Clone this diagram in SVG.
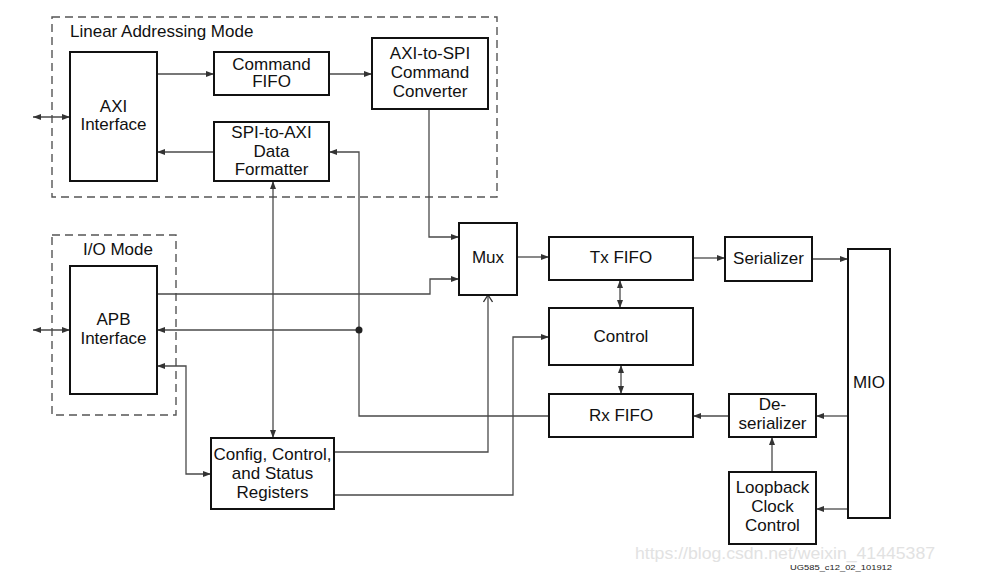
<svg xmlns="http://www.w3.org/2000/svg" width="1001" height="573" viewBox="0 0 1001 573">
<style>
.box{fill:#fff;stroke:#111;stroke-width:2}
.dash{fill:none;stroke:#555;stroke-width:1.4;stroke-dasharray:8 5}
.t{font-family:"Liberation Sans",Arial,sans-serif;font-size:17px;fill:#111;text-anchor:middle}
.c{fill:none;stroke:#4a4a4a;stroke-width:1.3}
</style>
<defs>
<marker id="a" markerUnits="userSpaceOnUse" markerWidth="9" markerHeight="8" refX="8" refY="4" orient="auto-start-reverse">
<path d="M0,1 L8,4 L0,7 Z" fill="#333"/>
</marker>
<marker id="o" markerUnits="userSpaceOnUse" markerWidth="10" markerHeight="10" refX="8" refY="5" orient="auto">
<path d="M1,0.5 L8,5 L1,9.5" fill="none" stroke="#333" stroke-width="1.3"/>
</marker>
</defs>
<rect width="1001" height="573" fill="#fff"/>

<g id="linear-mode">
<rect class="dash" x="52" y="17" width="445" height="180"/>
<text class="t" x="70" y="37" style="text-anchor:start">Linear Addressing Mode</text>
</g>
<g id="io-mode">
<rect class="dash" x="52" y="235" width="124" height="180"/>
<text class="t" x="118" y="255">I/O Mode</text>
</g>

<g id="connectors">
<path class="c" d="M33,117 H70" marker-start="url(#a)" marker-end="url(#a)"/>
<path class="c" d="M33,330 H70" marker-start="url(#a)" marker-end="url(#a)"/>
<path class="c" d="M157,74 H214" marker-end="url(#a)"/>
<path class="c" d="M329,74 H372" marker-end="url(#a)"/>
<path class="c" d="M214,152 H157" marker-end="url(#a)"/>
<path class="c" d="M429,109 V237 H459" marker-end="url(#a)"/>
<path class="c" d="M157,294 H430 V279 H459" marker-end="url(#a)"/>
<path class="c" d="M549,416 H359 V152 H329" marker-end="url(#a)"/>
<path class="c" d="M359,330 H157" marker-end="url(#a)"/>
<circle cx="359" cy="330" r="3.5" fill="#222"/>
<path class="c" d="M273,181 V438" marker-start="url(#a)" marker-end="url(#a)"/>
<path class="c" d="M157,366 H186 V474 H211" marker-start="url(#a)" marker-end="url(#a)"/>
<path class="c" d="M334,452 H488 V295" marker-end="url(#o)"/>
<path class="c" d="M334,495 H513 V337 H549" marker-end="url(#a)"/>
<path class="c" d="M517,257 H549" marker-end="url(#a)"/>
<path class="c" d="M620,280 V308" marker-start="url(#a)" marker-end="url(#a)"/>
<path class="c" d="M621,365 V394" marker-start="url(#a)" marker-end="url(#a)"/>
<path class="c" d="M693,258 H725" marker-end="url(#a)"/>
<path class="c" d="M812,259 H848" marker-end="url(#a)"/>
<path class="c" d="M848,416 H816" marker-end="url(#a)"/>
<path class="c" d="M729,416 H693" marker-end="url(#a)"/>
<path class="c" d="M772,472 V437" marker-end="url(#a)"/>
<path class="c" d="M848,509 H816" marker-end="url(#a)"/>
</g>

<g id="axi-interface">
<rect class="box" x="70" y="52" width="87" height="129"/>
<text class="t" x="113.5" y="112">AXI</text>
<text class="t" x="113.5" y="130">Interface</text>
</g>
<g id="command-fifo">
<rect class="box" x="214" y="52" width="115" height="43"/>
<text class="t" x="271.5" y="70">Command</text>
<text class="t" x="271.5" y="87">FIFO</text>
</g>
<g id="axi-to-spi">
<rect class="box" x="372" y="38" width="116" height="71"/>
<text class="t" x="430" y="59">AXI-to-SPI</text>
<text class="t" x="430" y="78">Command</text>
<text class="t" x="430" y="97">Converter</text>
</g>
<g id="spi-to-axi">
<rect class="box" x="214" y="122" width="115" height="59"/>
<text class="t" x="271.5" y="138">SPI-to-AXI</text>
<text class="t" x="271.5" y="157">Data</text>
<text class="t" x="271.5" y="175">Formatter</text>
</g>
<g id="apb-interface">
<rect class="box" x="70" y="266" width="87" height="128"/>
<text class="t" x="113.5" y="325">APB</text>
<text class="t" x="113.5" y="344">Interface</text>
</g>
<g id="config">
<rect class="box" x="211" y="438" width="123" height="71"/>
<text class="t" x="272.5" y="460">Config, Control,</text>
<text class="t" x="272.5" y="479">and Status</text>
<text class="t" x="272.5" y="498">Registers</text>
</g>
<g id="mux">
<rect class="box" x="459" y="223" width="58" height="72"/>
<text class="t" x="488" y="263">Mux</text>
</g>
<g id="tx-fifo">
<rect class="box" x="549" y="237" width="144" height="43"/>
<text class="t" x="621" y="263">Tx FIFO</text>
</g>
<g id="control">
<rect class="box" x="549" y="308" width="144" height="57"/>
<text class="t" x="621" y="342">Control</text>
</g>
<g id="rx-fifo">
<rect class="box" x="549" y="394" width="144" height="43"/>
<text class="t" x="621" y="421">Rx FIFO</text>
</g>
<g id="serializer">
<rect class="box" x="725" y="237" width="87" height="44"/>
<text class="t" x="768.5" y="264">Serializer</text>
</g>
<g id="deserializer">
<rect class="box" x="729" y="394" width="87" height="43"/>
<text class="t" x="772.5" y="410">De-</text>
<text class="t" x="772.5" y="429">serializer</text>
</g>
<g id="loopback">
<rect class="box" x="729" y="472" width="87" height="72"/>
<text class="t" x="772.5" y="493">Loopback</text>
<text class="t" x="772.5" y="512">Clock</text>
<text class="t" x="772.5" y="531">Control</text>
</g>
<g id="mio">
<rect class="box" x="848" y="249" width="42" height="269"/>
<text class="t" x="869" y="388">MIO</text>
</g>

<text x="635" y="559" font-family="'Liberation Sans',Arial,sans-serif" font-size="16" fill="#e2e2e2" textLength="300" lengthAdjust="spacingAndGlyphs">https://blog.csdn.net/weixin_41445387</text>
<text x="790" y="570" font-family="'Liberation Sans',Arial,sans-serif" font-size="8" fill="#222" textLength="102" lengthAdjust="spacingAndGlyphs">UG585_c12_02_101912</text>
</svg>
